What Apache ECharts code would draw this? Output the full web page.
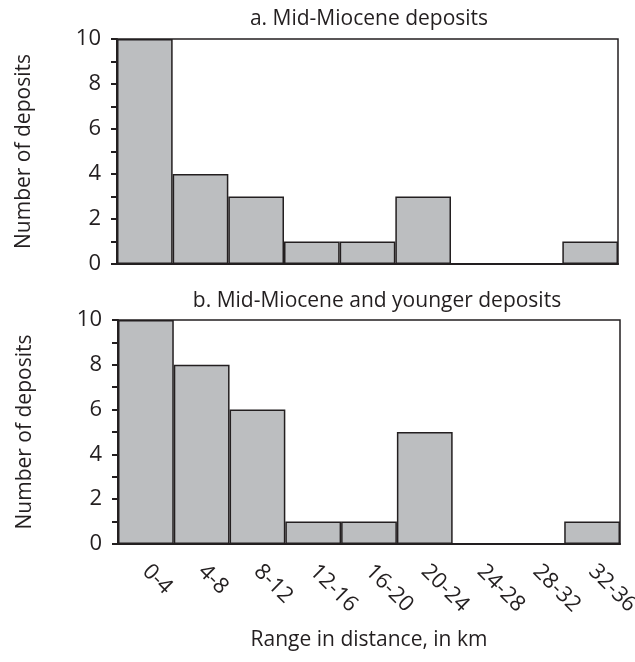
<!DOCTYPE html>
<html><head><meta charset="utf-8">
<script src="https://cdn.jsdelivr.net/npm/echarts@6/dist/echarts.min.js"></script>
<style>html,body{margin:0;padding:0;background:#fff}#c{width:635px;height:662px}</style>
</head><body><div id="c"></div>
<script>
var categories = ['0-4','4-8','8-12','12-16','16-20','20-24','24-28','28-32','32-36'];
var midMiocene = [10,4,3,1,1,3,0,0,1];
var midMioceneYounger = [10,8,6,1,1,5,0,0,1];
var titles = ['a. Mid-Miocene deposits','b. Mid-Miocene and younger deposits'];
var yName = 'Number of deposits';
var xName = 'Range in distance, in km';

var ink = '#231f20';
var font = 'Open Sans';
var chart = echarts.init(document.getElementById('c'), null, {renderer:'canvas'});
function yAx(i){return {gridIndex:i,type:'value',min:0,max:10,interval:2,
  axisLine:{show:true,lineStyle:{color:ink,width:2}},
  axisTick:{show:true,length:6,lineStyle:{color:ink,width:2}},
  minorTick:{show:true,splitNumber:2,length:6,lineStyle:{color:ink,width:2}},
  splitLine:{show:false},
  axisLabel:{color:ink,fontSize:22,fontFamily:font,margin:16},
  name:yName,nameLocation:'middle',nameGap:82,
  nameTextStyle:{color:ink,fontSize:21,fontFamily:font}};}
function xAx(i,labels){return {gridIndex:i,type:'category',data:categories,
  axisLine:{show:true,lineStyle:{color:ink,width:2}},
  axisTick:{show:false},
  axisLabel:{show:labels,rotate:-45,align:'left',verticalAlign:'middle',color:ink,fontSize:22,fontFamily:font,margin:24},
  name:labels?xName:'',nameLocation:'middle',nameGap:86,
  nameTextStyle:{color:ink,fontSize:21,fontFamily:font}};}
var barStyle = {color:'#bcbec0',borderColor:ink,borderWidth:1.5};
chart.setOption({
  animation:false,
  title:[
    {text:titles[0],left:364,top:4,textAlign:'center',textStyle:{color:ink,fontSize:21,fontWeight:'normal',fontFamily:font}},
    {text:titles[1],left:372,top:286,textAlign:'center',textStyle:{color:ink,fontSize:21,fontWeight:'normal',fontFamily:font}}
  ],
  grid:[
    {left:117,top:39,width:501,height:225,show:true,borderColor:ink,borderWidth:1.5,outerBoundsMode:'none',containLabel:false},
    {left:118,top:320,width:502,height:224,show:true,borderColor:ink,borderWidth:1.5,outerBoundsMode:'none',containLabel:false}
  ],
  xAxis:[xAx(0,false),xAx(1,true)],
  yAxis:[yAx(0),yAx(1)],
  series:[
    {type:'bar',xAxisIndex:0,yAxisIndex:0,data:midMiocene,barCategoryGap:0,itemStyle:barStyle},
    {type:'bar',xAxisIndex:1,yAxisIndex:1,data:midMioceneYounger,barCategoryGap:0,itemStyle:barStyle}
  ]
});
</script></body></html>
